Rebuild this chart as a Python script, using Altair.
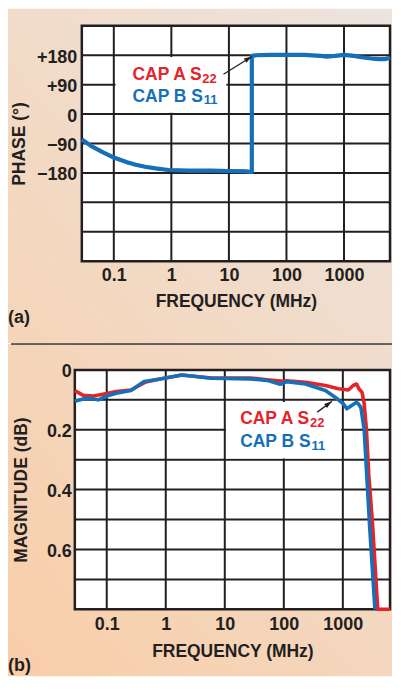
import altair as alt
import pandas as pd

# ---------------- data ----------------
freq_ticks = [0.1, 1, 10, 100, 1000]
x_grid_mhz = [0.1, 1, 10, 100, 1000]

# (a) phase in degrees
phase_ticks = [180, 90, 0, -90, -180]
phase_grid = [-360, -270, -180, -90, 0, 90, 180]
phase_freq = [0.0278, 0.04, 0.065, 0.1, 0.125, 0.17, 0.24, 0.35, 0.53, 0.89,
              2, 5, 10, 20, 25, 25, 30, 50, 100, 200,
              400, 500, 700, 1000, 1500, 2000, 3000, 4000, 5000, 6300]
phase_cap_b = [-78, -97, -117, -133, -139, -147, -155, -161, -166, -171,
               -173, -173, -174, -175, -177, 178, 180, 181, 181, 181,
               178, 176, 178, 181, 178, 174, 170, 168, 168, 172]
phase_cap_a = [-78, -97, -117, -133, -139, -147, -155, -161, -166, -171,
               -173, -173, -174, -175, -177, 178, 180, 181, 181, 181,
               178, 176, 178, 181, 178, 174, 170, 168, 168, 172]

# (b) magnitude in dB
mag_ticks = [0, 0.2, 0.4, 0.6]
mag_grid = [0.1, 0.2, 0.3, 0.4, 0.5, 0.6, 0.7]
mag_freq_a = [0.0288, 0.040, 0.059, 0.1, 0.145, 0.257, 0.46, 0.76, 1.87, 5.9,
              27, 52, 98, 110, 234, 507, 845, 1240, 1500, 1710,
              1870, 2120, 2300, 2510, 2750, 3200, 3900, 6300]
mag_cap_a = [0.069, 0.085, 0.087, 0.079, 0.072, 0.067, 0.040, 0.031, 0.017, 0.027,
             0.027, 0.033, 0.038, 0.036, 0.041, 0.052, 0.063, 0.067, 0.052, 0.047,
             0.063, 0.075, 0.113, 0.200, 0.35, 0.52, 0.80, 0.80]
mag_freq_b = [0.0288, 0.046, 0.072, 0.1, 0.145, 0.257, 0.43, 0.76, 1.87, 5.9,
              27, 52, 87, 112, 234, 507, 740, 1020, 1170, 1410,
              1710, 1820, 2020, 2300, 2850, 3500]
mag_cap_b = [0.105, 0.094, 0.100, 0.087, 0.078, 0.069, 0.039, 0.031, 0.017, 0.028,
             0.030, 0.035, 0.048, 0.039, 0.047, 0.069, 0.091, 0.113, 0.130, 0.119,
             0.108, 0.113, 0.125, 0.20, 0.525, 0.80]

legend_main = ["CAP A S", "CAP B S"]
legend_sub = ["22", "11"]

# ---------------- style / layout ----------------
FONT = "Liberation Sans"
INK = "#231f20"
RED = "#e5232a"
BLUE = "#1570b8"
C0 = (249, 206, 168)   # bottom-left of the page
C1 = (236, 228, 223)   # top-right of the page
GA, GB = 0.4, 0.6      # horizontal / vertical share of the gradient
CANVAS_W, CANVAS_H, SPLIT = 385, 668, 335
OX = 67                # shared panel origin (canvas x)
W = 316                # panel width (right edges shared)
SHIFT_A = 7            # plot (a) starts this much right of plot (b)


def mix(t):
    t = max(0.0, min(1.0, t))
    return "#%02x%02x%02x" % tuple(round(a + (b - a) * t) for a, b in zip(C0, C1))


def gradient(top_part):
    r = SPLIT / CANVAS_H
    k = r if top_part else 1 - r
    gx, gy = GA, -GB * k
    n = gx * gx + gy * gy
    dx, dy = gx / n, gy / n
    if top_part:
        stops = [alt.GradientStop(offset=0, color=mix(GB * (1 - r))),
                 alt.GradientStop(offset=GA + GB * r, color=mix(1))]
    else:
        stops = [alt.GradientStop(offset=0, color=mix(0)),
                 alt.GradientStop(offset=GA + GB * k, color=mix(GA + GB * k))]
    return alt.LinearGradient(gradient="linear", stops=stops,
                              x1=0, y1=1, x2=dx, y2=1 + dy)


one = pd.DataFrame({"k": [0]})


def panel(x0, H, oy, bottom_edge, top_part, X, Y, grid_y, series,
          box, legend_pos, sub_dx, arrow, tag, tag_y, extra=None):
    layers = []
    layers.append(alt.Chart(one).mark_rect(color=gradient(top_part)).encode(
        x=alt.value(-OX), x2=alt.value(CANVAS_W - OX),
        y=alt.value(-oy), y2=alt.value(bottom_edge)))
    layers.append(alt.Chart(one).mark_rect(color="white").encode(
        x=alt.value(x0), x2=alt.value(W), y=alt.value(0), y2=alt.value(H)))
    layers.append(alt.Chart(pd.DataFrame({"f": x_grid_mhz})).mark_rule(
        color=INK, strokeWidth=2).encode(x=X))
    layers.append(alt.Chart(pd.DataFrame({"v": grid_y})).mark_rule(
        color=INK, strokeWidth=2).encode(y=Y, x=alt.value(x0), x2=alt.value(W)))
    bx = pd.DataFrame({"f": [box[0]], "f2": [box[1]], "v": [box[2]], "v2": [box[3]]})
    layers.append(alt.Chart(bx).mark_rect(color="white").encode(
        x=X, x2="f2:Q", y=Y, y2="v2:Q"))
    layers.append(alt.Chart(one).mark_rect(fill="transparent", stroke=INK, strokeWidth=2.5).encode(
        x=alt.value(x0), x2=alt.value(W), y=alt.value(0), y2=alt.value(H)))
    for fr, vals, col, sw in series:
        df = pd.DataFrame({"f": fr, "v": vals, "i": list(range(len(fr)))})
        layers.append(alt.Chart(df).mark_line(color=col, strokeWidth=sw, strokeJoin="round").encode(
            x=X, y=Y, order="i:Q"))
    for j, col in enumerate([RED, BLUE]):
        f, v = legend_pos[j]
        d = pd.DataFrame({"f": [f], "v": [v], "t": [legend_main[j]], "s": [legend_sub[j]]})
        layers.append(alt.Chart(d).mark_text(align="left", baseline="alphabetic", font=FONT,
                                             fontWeight="bold", fontSize=17.5, color=col).encode(
            x=X, y=Y, text="t:N"))
        layers.append(alt.Chart(d).mark_text(align="left", baseline="alphabetic", font=FONT,
                                             fontWeight="bold", fontSize=13, color=col,
                                             dx=sub_dx[j], dy=2.5).encode(
            x=X, y=Y, text="s:N"))
    (f0, v0, f1, v1, ang) = arrow
    ad = pd.DataFrame({"f": [f0], "v": [v0], "f2": [f1], "v2": [v1]})
    layers.append(alt.Chart(ad).mark_rule(color=INK, strokeWidth=1.3).encode(
        x=X, y=Y, x2="f2:Q", y2="v2:Q"))
    hd = pd.DataFrame({"f": [f1], "v": [v1]})
    layers.append(alt.Chart(hd).mark_point(shape="M0,0 L-0.6,2 L0.6,2 Z", filled=True, color=INK,
                                           opacity=1, size=64, angle=ang).encode(x=X, y=Y))
    layers.append(alt.Chart(one).mark_text(align="left", baseline="alphabetic", font=FONT,
                                           fontWeight="bold", fontSize=18, color=INK).encode(
        x=alt.value(-OX), y=alt.value(tag_y), text=alt.value(tag)))
    if extra is not None:
        layers.extend(extra)
    return alt.layer(*layers).properties(width=W, height=H)


def xaxis(title_y, pad):
    return alt.Axis(values=freq_ticks, format="~g", title="FREQUENCY (MHz)", grid=False,
                    domain=False, ticks=False, tickSize=0, labelPadding=pad,
                    labelFont=FONT, labelFontWeight="bold", labelFontSize=18, labelColor=INK,
                    labelBaseline="top", labelFlush=False, labelOverlap=False,
                    titleFont=FONT, titleFontWeight="bold", titleFontSize=17.5, titleColor=INK,
                    titleBaseline="alphabetic", titleY=title_y, zindex=1)


def yaxis(title, values, expr, title_x, title_y, pad, offset):
    kw = {}
    if expr:
        kw["labelExpr"] = expr
    return alt.Axis(values=values, title=title, grid=False, domain=False, ticks=False,
                    tickSize=0, labelPadding=pad, labelFont=FONT, labelFontWeight="bold",
                    labelFontSize=18, labelColor=INK, labelFlush=False, labelOverlap=False,
                    labelOffset=2, format="~g", offset=offset,
                    titleFont=FONT, titleFontWeight="bold", titleFontSize=17.5, titleColor=INK,
                    titleBaseline="alphabetic", titleAngle=270, titleX=title_x, titleY=title_y,
                    zindex=1, **kw)


# ---- top panel (a) ----
OY1, H1 = 17, 236
XA = alt.X("f:Q", scale=alt.Scale(type="log", domain=[0.0278, 6300], nice=False,
                                  range=[SHIFT_A, W]),
           axis=xaxis(45, 5))
YA = alt.Y("v:Q", scale=alt.Scale(domain=[-450, 270], nice=False, zero=False),
           axis=yaxis("PHASE (°)", phase_ticks,
                      "datum.value > 0 ? '+' + datum.value : (datum.value < 0 ? '\u2212' + abs(datum.value) : '0')",
                      -57, H1 / 2, 5, -SHIFT_A))
top = panel(SHIFT_A, H1, OY1, SPLIT - OY1, True, XA, YA, phase_grid,
            [(phase_freq, phase_cap_a, RED, 3), (phase_freq, phase_cap_b, BLUE, 4.2)],
            (0.107, 9.06, 4, 175),
            [(0.211, 104), (0.211, 38)], [70, 71.5],
            (8.05, 122, 25.1, 176, 59), "(a)", 298)

# ---- bottom panel (b) ----
OY2, H2 = 361 - SPLIT, 240
XB = alt.X("f:Q", scale=alt.Scale(type="log", domain=[0.0288, 6300], nice=False),
           axis=xaxis(47, 6))
YB = alt.Y("v:Q", scale=alt.Scale(domain=[0, 0.8], reverse=True, nice=False, zero=False),
           axis=yaxis("MAGNITUDE (dB)", mag_ticks, None, -48.3, H2 / 2, 3.5, 0))
sep = alt.Chart(one).mark_rule(color="#333333", strokeWidth=1.5).encode(
    x=alt.value(-64), x2=alt.value(318), y=alt.value(-OY2))
bottom = panel(0, H2, OY2, CANVAS_H - 361, False, XB, YB, mag_grid,
               [(mag_freq_a, mag_cap_a, RED, 3.6), (mag_freq_b, mag_cap_b, BLUE, 3.6)],
               (10.5, 937, 0.107, 0.296),
               [(18.2, 0.182), (18.2, 0.259)], [70, 71.5],
               (369, 0.141, 656, 0.105, 54), "(b)", 302, extra=[sep])

chart = alt.vconcat(top, bottom, spacing=0).properties(
    padding={"left": 0, "top": 0, "right": 0, "bottom": 0}, background="white"
).configure_view(strokeWidth=0)

chart.save("out.html", embed_options={"renderer": "svg", "actions": False})
